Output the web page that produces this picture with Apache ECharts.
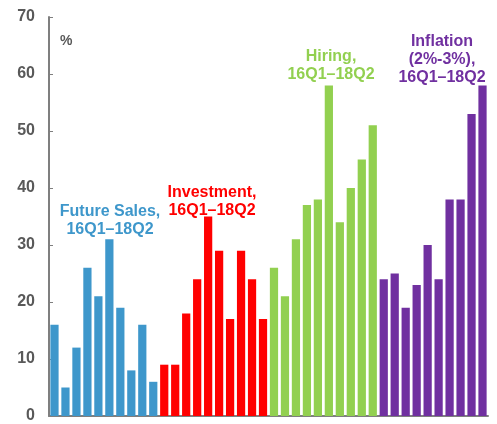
<!DOCTYPE html>
<html>
<head>
<meta charset="utf-8">
<script src="https://cdn.jsdelivr.net/npm/echarts@6/dist/echarts.min.js"></script>
<style>
  html, body { margin: 0; padding: 0; background: #fff; overflow: hidden; }
  #chart { width: 497px; height: 424px; }
</style>
</head>
<body>
<div id="chart"></div>
<script>
// quarters per group
var quarters = ['16Q1', '16Q2', '16Q3', '16Q4', '17Q1', '17Q2', '17Q3', '17Q4', '18Q1', '18Q2'];
var groups = ['Future Sales', 'Investment', 'Hiring', 'Inflation'];

var futureSales = [16, 5, 12, 26, 21, 31, 19, 8, 16, 6];
var investment = [9, 9, 18, 24, 35, 29, 17, 29, 24, 17];
var hiring = [26, 21, 31, 37, 38, 58, 34, 40, 45, 51];
var inflation = [24, 25, 19, 23, 30, 24, 38, 38, 53, 58];

var yTicks = [0, 10, 20, 30, 40, 50, 60, 70];

var colors = ['#3e97cb', '#ff0000', '#92d050', '#7030a0'];

// one category per bar, 40 in all
var categories = [];
groups.forEach(function (g) {
  quarters.forEach(function (q) { categories.push(g + ' ' + q); });
});

// each group's values go in its own slot, null elsewhere
function place(values, idx) {
  var out = [];
  for (var i = 0; i < categories.length; i++) out.push(null);
  values.forEach(function (v, i) { out[idx * quarters.length + i] = v; });
  return out;
}

var allValues = [futureSales, investment, hiring, inflation];

var chart = echarts.init(document.getElementById('chart'));
chart.setOption({
  animation: false,
  grid: { left: 49, right: 9, top: 17, bottom: 3, containLabel: false },
  xAxis: {
    type: 'category',
    data: categories,
    axisLine: { show: true, lineStyle: { color: '#7f7f7f', width: 2 } },
    axisTick: { show: false },
    axisLabel: { show: false }
  },
  yAxis: {
    type: 'value',
    min: yTicks[0],
    max: yTicks[yTicks.length - 1],
    interval: 10,
    axisLine: { show: true, lineStyle: { color: '#7f7f7f', width: 2 } },
    axisTick: { show: true, inside: true, length: 4, lineStyle: { color: '#7f7f7f', width: 1 } },
    splitLine: { show: false },
    axisLabel: {
      color: '#595959',
      fontFamily: 'Liberation Sans',
      fontWeight: 'bold',
      fontSize: 16,
      margin: 14
    }
  },
  series: allValues.map(function (vals, i) {
    return {
      name: groups[i],
      type: 'bar',
      stack: 'all',
      barCategoryGap: '25%',
      data: place(vals, i),
      itemStyle: { color: colors[i] }
    };
  }),
  graphic: [
    {
      type: 'text', left: 60, top: 34,
      style: { text: '%', fill: '#595959', font: 'bold 14px "Liberation Sans"' }
    },
    {
      type: 'text', x: 110, y: 203,
      style: {
        text: 'Future Sales,\n16Q1\u201318Q2', fill: colors[0], align: 'center',
        font: 'bold 16px "Liberation Sans"', lineHeight: 18
      }
    },
    {
      type: 'text', x: 212, y: 184,
      style: {
        text: 'Investment,\n16Q1\u201318Q2', fill: colors[1], align: 'center',
        font: 'bold 16px "Liberation Sans"', lineHeight: 18
      }
    },
    {
      type: 'text', x: 331, y: 48,
      style: {
        text: 'Hiring,\n16Q1\u201318Q2', fill: colors[2], align: 'center',
        font: 'bold 16px "Liberation Sans"', lineHeight: 18
      }
    },
    {
      type: 'text', x: 442, y: 33,
      style: {
        text: 'Inflation\n(2%-3%),\n16Q1\u201318Q2', fill: colors[3], align: 'center',
        font: 'bold 16px "Liberation Sans"', lineHeight: 18
      }
    }
  ]
});
</script>
</body>
</html>
